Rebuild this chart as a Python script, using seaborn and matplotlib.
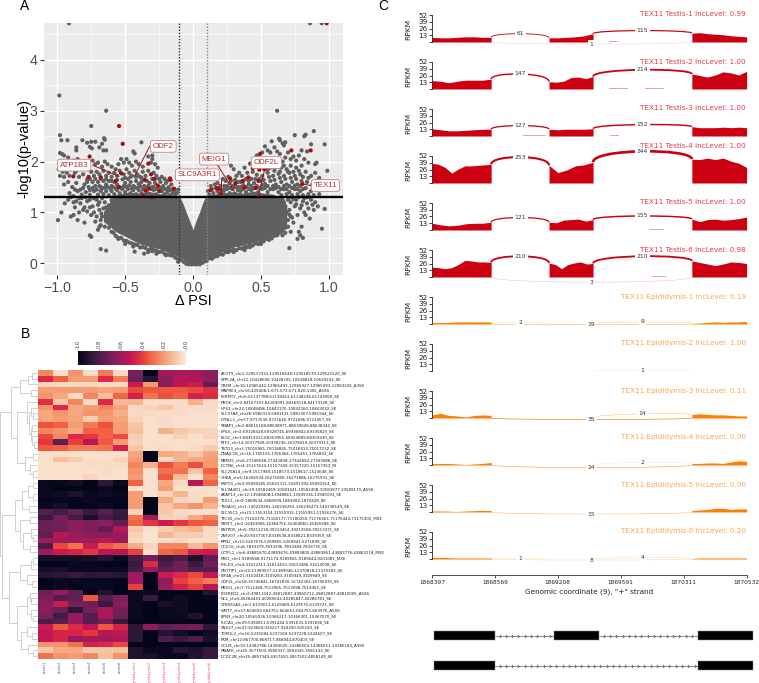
import numpy as np
import pandas as pd
import matplotlib
matplotlib.use("Agg")
import matplotlib.pyplot as plt
from matplotlib.path import Path
from matplotlib.patches import PathPatch, Rectangle
import seaborn as sns

W, H = 759, 683
# ---------- panel A data ----------
blob_x = [-.66,-.61,-.587,-.56,-.47,-.39,-.32,-.243,-.17,-.096,-.07,-.047,-.02,0,.02,.05,.07,.09,.15,.22,.297,.37,.445,.52,.592,.65,.69]
blob_lo = [.82,.72,.66,.61,.49,.38,.33,.28,.20,.12,.08,.02,.01,.01,.01,.01,.06,.09,.15,.23,.32,.36,.41,.47,.54,.60,.74]
blob_hi = [1.02,1.22,1.30,1.36,1.40,1.38,1.41,1.37,1.36,1.30,1.15,.98,.80,.66,.82,1.02,1.18,1.30,1.36,1.38,1.41,1.38,1.42,1.38,1.36,1.28,1.15]

gray_pts = [
(-.914,4.72),(.862,4.72),(.948,4.72),
(-.985,3.30),(-.64,3.00),(-.75,2.70),(-.98,2.52),(-.97,2.42),(-.925,2.42),(-.815,2.42),(-.78,2.37),(-.75,2.39),(-.72,2.39),(-.67,2.35),(-.65,2.43),(-.655,2.46),
(-.69,2.28),(-.86,2.28),(-.86,2.22),(-.76,2.29),(-.745,2.26),(-.66,2.22),(-.64,2.22),(-.38,2.38),(-.44,2.20),(-.43,2.16),(-.30,2.12),(-.30,2.05),(-.98,2.17),(-.965,2.15),(-.95,2.12),
(-.92,2.08),(-.88,2.02),(-.85,2.05),(-.84,1.95),(-.93,1.95),(-.97,1.90),(-.99,1.85),(-.96,1.80),(-.93,1.78),(-.90,1.85),(-.86,1.82),(-.82,1.88),(-.80,1.98),(-.78,1.92),(-.74,2.02),(-.72,1.95),
(-.70,1.98),(-.67,1.90),(-.65,2.00),(-.63,1.95),(-.60,1.90),(-.57,1.85),(-.55,1.95),(-.53,2.05),(-.51,1.98),(-.49,2.05),(-.47,1.98),(-.45,1.92),(-.42,2.00),(-.40,1.95),(-.37,1.90),(-.33,2.10),(-.31,1.98),(-.28,1.95),(-.26,1.88),
(-.98,1.72),(-.95,1.70),(-.91,1.72),(-.87,1.78),(-.84,1.70),(-.81,1.75),(-.78,1.65),(-.75,1.80),(-.73,1.72),(-.71,1.80),(-.69,1.75),(-.66,1.82),(-.64,1.72),(-.62,1.78),(-.60,1.70),(-.58,1.78),(-.56,1.72),(-.54,1.82),(-.51,1.75),(-.49,1.85),(-.47,1.78),(-.45,1.72),(-.43,1.82),(-.41,1.75),(-.39,1.70),(-.37,1.80),(-.35,1.72),(-.33,1.82),(-.29,1.78),(-.27,1.72),(-.23,1.70),(-.21,1.66),(-.19,1.62),
(-.95,1.55),(-.92,1.60),(-.89,1.50),(-.86,1.58),(-.83,1.45),(-.80,1.55),(-.77,1.50),(-.74,1.60),(-.72,1.52),(-.70,1.60),(-.68,1.50),(-.66,1.62),(-.64,1.55),(-.62,1.62),(-.60,1.52),(-.58,1.60),(-.56,1.55),(-.52,1.65),(-.50,1.58),(-.48,1.66),(-.46,1.60),(-.44,1.52),(-.42,1.62),(-.40,1.56),(-.38,1.60),(-.36,1.52),(-.32,1.58),(-.30,1.50),(-.28,1.58),(-.24,1.60),(-.22,1.52),(-.20,1.58),(-.18,1.50),(-.16,1.55),(-.14,1.42),(-.12,1.38),(-.11,1.45),
(-.91,1.38),(-.88,1.32),(-.85,1.42),(-.82,1.35),(-.79,1.40),(-.76,1.35),(-.73,1.42),(-.70,1.35),(-.68,1.42),(-.66,1.36),(-.64,1.42),(-.62,1.34),(-.60,1.42),(-.58,1.36),(-.56,1.44),(-.54,1.38),(-.52,1.46),(-.50,1.40),(-.48,1.46),(-.46,1.38),(-.44,1.44),(-.42,1.36),(-.40,1.44),(-.38,1.38),(-.34,1.40),(-.32,1.36),(-.29,1.44),(-.27,1.36),(-.23,1.42),(-.21,1.36),(-.19,1.40),(-.17,1.34),(-.15,1.38),
(-.995,.85),(-.97,1.00),(-.945,1.18),(-.92,1.25),(-.88,.95),(-.87,1.10),(-.85,.85),(-.83,1.18),(-.81,1.05),(-.80,.80),(-.78,1.22),(-.76,.55),(-.75,.52),(-.75,.95),(-.74,1.12),(-.72,.82),(-.71,1.25),(-.69,1.05),(-.68,.75),(-.67,.92),(-.68,.28),(-.64,.25),(-.65,1.20),(-.64,1.10),(-.63,.85),(-.70,1.15),(-.76,1.25),(-.82,1.28),(-.86,1.22),
(-.43,.23),(-.36,.19),(-.33,.22),(-.30,.24),(-.11,.03),(-.55,.48),(-.50,.38),(-.44,.33),(-.27,.19),(-.20,.16),
(.62,3.00),(.89,2.60),(.75,2.52),(.82,2.50),(.83,2.53),(.64,2.42),(.635,2.45),(.68,2.38),(.67,2.32),(.66,2.36),(.58,2.40),(.53,2.30),(.55,2.22),(.97,2.34),(.87,2.34),(.84,2.20),(.90,1.95),(.91,1.98),(.99,1.82),(.93,1.68),(.97,1.07),(.95,.68),(.85,1.08),(.89,1.05),(.82,1.00),
(.60,2.28),(.57,2.18),(.51,2.18),(.47,2.12),(.62,2.20),(.64,2.15),(.70,2.18),(.74,2.10),(.78,2.12),(.80,2.22),(.82,2.05),(.76,2.02),(.72,2.05),(.68,2.08),(.66,2.00),(.62,2.02),(.58,2.05),(.54,2.02),(.50,1.98),(.46,2.00),(.42,1.96),(.38,1.88),(.30,1.85),(.28,1.92),(.34,1.78),
(.85,1.98),(.80,1.92),(.76,1.88),(.72,1.92),(.69,1.85),(.65,1.88),(.61,1.90),(.57,1.88),(.53,1.92),(.48,1.90),(.44,1.80),(.40,1.78),(.36,1.72),(.32,1.72),(.26,1.70),(.24,1.62),(.22,1.66),(.18,1.58),
(.90,1.78),(.87,1.72),(.83,1.80),(.79,1.75),(.75,1.72),(.71,1.78),(.67,1.72),(.63,1.76),(.59,1.72),(.55,1.78),(.51,1.72),(.47,1.74),(.43,1.66),(.39,1.66),(.35,1.60),(.31,1.64),(.27,1.58),(.23,1.52),(.20,1.52),(.16,1.55),(.13,1.52),(.11,1.42),
(.95,1.60),(.91,1.62),(.88,1.55),(.84,1.60),(.80,1.62),(.77,1.55),(.73,1.60),(.69,1.55),(.65,1.60),(.61,1.55),(.57,1.62),(.53,1.56),(.50,1.62),(.45,1.58),(.41,1.55),(.37,1.54),(.33,1.50),(.29,1.52),(.25,1.46),(.22,1.44),(.18,1.42),(.15,1.38),
(.91,1.45),(.87,1.42),(.83,1.48),(.79,1.42),(.75,1.46),(.71,1.40),(.67,1.46),(.63,1.40),(.59,1.46),(.55,1.40),(.51,1.46),(.48,1.40),(.43,1.44),(.39,1.40),(.35,1.42),(.31,1.36),(.27,1.38),(.23,1.36),(.19,1.35),(.12,1.35),
(.93,1.36),(.89,1.34),(.85,1.36),(.81,1.34),(.77,1.36),(.73,1.34),(.69,1.36),(.65,1.34),
(.90,1.20),(.87,1.25),(.84,1.18),(.81,1.22),(.79,1.08),(.77,.95),(.76,1.25),(.75,1.12),(.74,.80),(.73,.90),(.72,1.20),(.71,1.05),(.70,.72),(.72,.62),(.80,.72),(.79,.55),(.81,.50),(.77,.48),(.71,.30),(.66,.55),(.68,.60),(.78,.62),(.83,.95),(.86,.88),(.92,1.12),
(.05,-.02),(.10,.05),(.38,.26),(.42,.32),(.50,.38),(.56,.46),(.30,.22),(.26,.26),
# left edge of the dense cloud and its lower rim
(-.70,.66),(-.69,.72),(-.68,.85),(-.675,.98),(-.66,1.08),(-.65,.72),(-.64,.94),(-.63,1.02),(-.62,.70),(-.62,1.14),(-.60,.62),(-.60,1.24),(-.585,.60),(-.58,1.30),
(-.57,.54),(-.55,.50),(-.53,.50),(-.51,.45),(-.49,.44),(-.47,.41),(-.45,.39),(-.43,.37),(-.41,.36),(-.39,.31),(-.37,.32),(-.35,.30),(-.33,.26),(-.31,.29),(-.29,.26),(-.27,.25),(-.25,.22),(-.23,.23),(-.21,.19),(-.19,.17),(-.17,.16),(-.15,.15),(-.13,.11),(-.11,.09),(-.09,.07),(-.07,.03),(-.05,-.01),(-.03,-.02),(-.01,-.02),(.01,-.02),(.03,-.02),(.07,.01),(.09,.04),(.12,.10),(.14,.09),(.16,.13),(.18,.14),(.20,.18),(.22,.17),(.24,.22),(.26,.22),(.28,.25),(.30,.27),(.32,.26),(.34,.30),(.36,.29),(.38,.32),(.40,.32),(.42,.36),(.44,.35),(.46,.39),(.48,.38),(.50,.42),(.52,.43),(.54,.48),(.56,.50),(.58,.49),(.60,.54),(.62,.55),(.64,.60),(.66,.64),(.68,.70),(.70,.85),(.71,.96),(.69,1.00),(.68,1.12),(.67,1.20),(.66,1.25),(.72,.92),
# denser band just above the threshold line
(-.61,1.47),(-.59,1.50),(-.57,1.47),(-.55,1.51),(-.53,1.48),(-.51,1.52),(-.49,1.50),(-.47,1.53),(-.45,1.47),(-.43,1.50),(-.41,1.48),(-.39,1.52),(-.37,1.46),(-.35,1.50),(-.33,1.52),(-.31,1.46),(-.29,1.50),(-.27,1.46),(-.25,1.50),(-.23,1.47),(-.21,1.46),(-.19,1.46),(-.17,1.44),(-.15,1.46),(-.13,1.36),
(-.76,1.44),(-.74,1.48),(-.71,1.45),(-.69,1.52),(-.67,1.47),(-.65,1.49),(-.63,1.50),(-.81,1.48),(-.87,1.45),(-.78,1.60),(-.76,1.66),(-.72,1.66),(-.68,1.66),(-.64,1.66),(-.60,1.62),(-.56,1.64),(-.50,1.68),(-.46,1.70),(-.42,1.70),(-.38,1.68),(-.34,1.62),(-.30,1.66),(-.28,1.66),(-.25,1.66),
(-.90,.92),(-.84,1.00),(-.80,1.10),(-.78,1.02),(-.76,1.10),(-.73,1.00),(-.71,.92),(-.69,1.20),(-.67,1.28),(-.73,1.28),(-.79,1.30),(-.84,1.28),(-.88,1.20),(-.90,1.30),
(.14,1.46),(.17,1.48),(.20,1.46),(.23,1.44),(.25,1.52),(.27,1.48),(.29,1.46),(.31,1.50),(.33,1.44),(.35,1.50),(.37,1.46),(.39,1.50),(.41,1.46),(.43,1.52),(.45,1.48),(.47,1.52),(.49,1.48),(.51,1.54),(.53,1.48),(.55,1.52),(.57,1.46),(.59,1.52),(.61,1.48),(.63,1.50),(.65,1.46),(.67,1.52),(.69,1.46),(.71,1.52),(.73,1.48),(.75,1.53),(.77,1.46),(.79,1.52),(.81,1.46),
(.28,1.62),(.33,1.60),(.37,1.62),(.41,1.62),(.46,1.66),(.49,1.66),(.52,1.64),(.56,1.70),(.60,1.64),(.64,1.68),(.68,1.66),(.72,1.68),(.76,1.66),(.81,1.70),(.85,1.68),(.55,1.84),(.60,1.82),(.64,1.80),(.70,1.80),(.74,1.80),(.78,1.82),(.67,1.92),
(.72,1.30),(.74,1.26),(.76,1.16),(.78,1.30),(.80,1.14),(.82,1.28),(.84,1.30),(.86,1.30),(.88,1.15),(.70,1.25),
]
red_pts = [(-.545,2.70),(-.518,2.35),(-.762,2.10),(-.882,1.71),(-.77,1.70),(-.68,1.69),(-.53,1.77),(-.57,1.62),(-.545,1.50),(-.33,1.96),(-.31,1.75),(-.356,1.64),(-.287,1.66),(-.26,1.53),(-.248,1.42),(-.324,1.47),(-.35,1.43),(-.17,1.67),(-.165,1.64),(-.14,1.47),(-.366,1.33),(-.305,1.30),
(.13,1.44),(.175,1.48),(.19,1.46),(.206,1.38),(.273,1.67),(.312,1.57),(.366,1.62),(.378,1.49),(.408,1.69),(.44,1.87),(.494,2.15),(.489,1.84),(.526,1.85),(.482,1.62),(.462,1.48),(.725,2.22),(.867,2.22),(.806,1.56),(.985,4.72)]
gene_names = ["ODF2","ATP1B3","SLC9A3R1","MEIG1","ODF2L","TEX11"]
gene_label_x = [-.219,-.876,.032,.155,.54,.976]
gene_label_y = [2.30,1.93,1.74,2.05,1.98,1.53]
gene_tail_x0 = [-.32,-.74,.206,.175,.53,.87]
gene_tail_y0 = [2.30,1.93,1.64,1.96,1.87,1.53]
gene_tail_x = [-.43,-.545,.206,.312,.482,.806]
gene_tail_y = [1.72,1.71,1.38,1.38,1.31,1.56]

# ---------- panel B data ----------
row_labels = [
"ACOT9_chr1:129517331,129518548:129518570,129521520_SE","SPPL2A_chr11:10428608,10428745-10638818,10629243_SE","CREM_chr16:12965442,12965493-12965927,12965493-12963226_A3SS",
"MAPRE3_chr16:425408,1:671:672:671-820,1305_A5SS","FERMT2_chr5:61137788,61138263-61138236,61143958_SE","MYO6_chr2:84167103,84169091-84169118,84173128_SE",
"HPS3_chr22:10848486,10842170-10842260,10843032_SE","SLC37A4_chr26:5980319,5981121-5981307,5981944_SE","DYNLL1_chr17:9717530,9721640-9721696,9722457_SE",
"SMAP1_chr2:88615168,88638971-88639049,88638344_SE","PPIL6_chr2:69328428,69328745-69330842,69330829_SE","ELOC_chr3:68353222,68353955-68354889,68359330_SE",
"RTF2_chr14:20377928,20378236-20378419,20379313_SE","TSTD3_chr2:75015981,75016845-75016913,75017232_SE","DNAJC18_chr15:1765105,1765364-1765451,1766802_SE",
"RBM25_chr5:27248548,27342808-27342892,27343586_SE","DCTN6_chr4:15157634-15157349:15157220-15157353_RI","SLC25A14_chr9:1517989,1518573-1518617,1523648_SE",
"CHKA_chr5:16266534,16271806-16271886,16275931_SE","RSPO1_chr3:55690305,55691311-55691392,55692914_SE","SLC9A3R1_chr19:10582469-10583441:10582408-10583877,10589170_A5SS",
"AKAP13_chr12:13948408,13948861-13949036,13949193_SE","TEX11_chr9:1868534,1868599,1869282,1870428_SE","TSGA10_chr1:140229281,140236263-140236473,140238149_SE",
"SLC35C2_chr22:11553154,11555915-11555951,11556276_SE","TTC30_chr1:71160376,71160177-71180250:71176363-71176444,71175302_MXE","SRSF7_chr2:16363966,16364755-16364860,16365586_SE",
"ENTPD5_chr5:39212218,39213454-39213508,39213471_SE","ZNF207_chr20:8337357,8338538-8338821,8339359_SE","RPN2_chr12:5267676,5269855-5269941,5271899_SE",
"CCDC6_chr6:7833379,7833296-7833384,7833735_SE","LZTFL1_chr6:43881870,43883676-43883805,43883861-43883776,43883218_MXE","MSI1_chr1:9189588,9171174-9189581-9189644,9201081_MXE",
"PHLD3_chr4:31612311,31613410-31613486,31614008_SE","DNTTIP1_chr22:11389557,11389946-11370818,11370383_SE","EIF4A_chr21:3102418,3109283-3109349,3109949_SE",
"ODF2L_chr18:16740841,16741830-16742302,16745935_SE","MEIG1_chr7:7511468,7512965-7513098,7514455_SE","FOXRED2_chr2:49811042-49812887-49850712-49812887,49810005_A5SS",
"NCL_chr4:40284443,40285643-40285847,40286781_SE","CYB561A3_chr1:6129013,6129489-6129575,6129721_SE","WNT7_chr27:664609-664751:664651-664751,663976_A5SS",
"EPN3_chr20:10565926,10366217-10366301,10367070_SE","FUCA1_chr29:5390811,5391444-5391631,5391836_SE","SNX27_chr27:923669,924227-924290,925183_SE",
"TOM1L2_chr16:5235084,5237160-5237228,5244607_SE","PKM_chr12:867700,868717-868944,870403_SE","GCLM_chr10:14382786,14384025-14386563:14386551-14386183_A3SS",
"MBAFK_chr25:3577500,3580337-3581045,3581443_SE","DCDC2B_chr25:4857340,4357450-4857502,4858149_SE"]
col_labels = ["testis1","testis2","testis3","testis4","testis5","testis6","epididymis1","epididymis2","epididymis3","epididymis4","epididymis5","epididymis6"]
psi = [
[.25,.03,.22,.04,.28,.05,.70,1.0,.60,.58,.58,.65],[.45,.33,.20,.20,.45,.27,.72,.90,.65,.55,.58,.65],[.06,.05,.05,.05,.05,.05,.50,.20,.65,.53,.50,.75],
[.20,.20,.20,.20,.18,.20,.38,.35,.35,.35,.38,.43],[.22,.17,.05,.25,.12,.32,.48,.30,.37,.33,.48,.45],[.43,.10,.25,.05,.45,.13,.14,.04,.04,.04,.15,.04],
[.22,.45,.17,.20,.25,.18,.05,.07,.10,.04,.04,.04],[.17,.22,.17,.22,.22,.15,.05,.05,.04,.04,.03,.03],[.17,.20,.18,.08,.20,.18,.06,.03,.04,.03,.03,.03],
[.36,.33,.20,.28,.36,.20,.10,.03,.04,.03,.03,.03],[.25,.22,.17,.33,.33,.20,.11,.03,.15,.10,.07,.06],[.38,.25,.45,.42,.33,.38,.08,.03,.03,.07,.03,.07],
[.42,.75,.40,.55,.35,.20,.07,.03,.03,.03,.03,.03],[.35,.33,.28,.28,.30,.47,.10,.03,.04,.03,.04,.08],[.03,.03,.03,.03,.03,.03,.18,1.0,.17,.15,.10,.18],
[.03,.12,.08,.03,.03,.07,.20,1.0,.05,.14,.17,.20],[.03,.03,.03,.04,.04,.04,.25,.15,.37,.28,.37,.20],[.03,.03,.03,.03,.04,.03,.22,.03,.30,.30,.10,.33],
[.03,.03,.03,.06,.03,.03,.20,.03,.35,.12,.03,.25],[.98,.98,.95,1.0,.88,.97,.33,.03,.17,.05,.55,.33],[.98,1.0,1.0,1.0,.97,1.0,.03,.03,.20,.03,.03,.03],
[.97,.96,.92,.97,.96,.97,.20,.03,.06,.14,.04,.03],[.99,.98,.99,.97,.99,.99,.20,1.0,.17,.06,.04,.20],[.97,.94,1.0,.99,.97,1.0,.20,1.0,.10,.17,.22,.14],
[.78,.82,.75,.85,.77,.85,.07,1.0,.09,.05,.03,.03],[.85,.70,.82,.93,.82,.86,.30,.60,.07,.06,.17,.25],[.73,.70,.65,.68,.65,.75,.33,.42,.50,.42,.35,.33],
[.72,.72,.65,.68,.75,.55,.09,.03,.08,.12,.15,.04],[.75,.55,.62,.65,.65,.62,.07,.02,.14,.08,.08,.04],[.60,.60,.60,.60,.55,.62,.05,.02,.03,.05,.03,.03],
[.80,.38,.30,.50,.35,.30,.16,.06,.25,.25,.13,.22],[.60,.50,.47,.42,.55,.55,.40,.03,.32,.35,.48,.50],[.95,.95,.95,.94,.90,.97,.82,.70,.85,.80,.93,.75],
[1.0,1.0,.97,.98,1.0,1.0,.85,.45,.80,.72,.85,.72],[.95,.93,.97,.97,.97,.97,.82,.62,.75,.72,.78,.78],[.90,.88,.85,.88,.87,.90,.60,1.0,.50,.45,.38,.52],
[1.0,.97,.98,.98,.98,1.0,.60,1.0,.65,.40,.33,.27],[1.0,.97,1.0,.98,.98,1.0,.40,1.0,.62,.48,.40,.55],[.72,.62,.75,1.0,.92,1.0,.97,.97,1.0,1.0,1.0,.90],
[.68,.78,.75,.35,.78,.68,.98,.85,1.0,.96,1.0,.98],[.65,.50,.70,.72,.85,.65,.97,1.0,.93,.96,1.0,1.0],[.65,.72,.88,.70,.58,.70,.97,1.0,.97,.96,1.0,1.0],
[.68,.83,.62,.78,.58,.72,.97,1.0,.97,.97,.92,1.0],[.80,.77,.62,.77,.72,.85,1.0,1.0,1.0,1.0,1.0,1.0],[.50,.35,.45,.53,.35,.47,.88,.65,.75,.72,.70,.88],
[.53,.47,.47,.42,.55,.53,.88,1.0,.90,.95,1.0,.95],[.52,.47,.62,.58,.60,.58,.88,1.0,.80,.85,.80,.93],[.22,.22,.30,.47,.45,.38,1.0,1.0,1.0,1.0,1.0,1.0],
[.10,.17,.17,.10,.10,.12,.92,.97,.97,.90,.92,.85],[.30,.22,.20,.25,.12,.22,.92,.93,.97,.97,.90,.85]]
# dendrogram: (merge position, child, child), leaves are 1-based row numbers
tree = (0,
 (11,(20,(28,(32,1,2),3),(31,4,5)),
     (17,(27,6,(29,(31,7,(33,8,9)),(31,(32,10,11),(32,12,(34,13,14))))),
         (25,(33,15,16),(30,17,(33,18,19))))),
 (1.5,(15,(22,(28,(33,20,21),(33,22,23)),(29,24,25)),
          (20,(30,26,27),(23,(31,28,(33,29,30)),(30,31,32)))),
      (9,(20,(31,(33,33,34),35),(27,36,(32,37,38))),
         (17,(27,(30,39,(31,40,41)),(31,42,(33,43,44))),
             (21,(27,45,(32,46,47)),(28,48,(33,49,50)))))))

# ---------- panel C data ----------
samples = ["Testis-1","Testis-2","Testis-3","Testis-4","Testis-5","Testis-6","Epididymis-1","Epididymis-2","Epididymis-3","Epididymis-4","Epididymis-5","Epididymis-6"]
inc_levels = ["0.99","1.00","1.00","1.00","1.00","0.98","0.19","1.00","0.11","0.00","0.00","0.20"]
exon_edges = [(0,.94),(1.86,2.56),(4.13,5.0)]
cov_e1 = [[9,8,8,9,10,10,9,9],[16,15,12,15,17,17,17,19],[14,12,10,10,11,12,13,13],[38,36,30,19,27,33,33,34,35,36],[13,10,8,9,12,13,13,15],[19,18,16,18,24,32,31,29,29,28],
 [3,3,3,4,4,4,4,4],[.2,.2,.2,.2],[6,9,5,4,2,5,6,5],[3,3,3,2,1,2,3,5],[2,2,1,2,3,3],[3,3,2,2,2,2]]
cov_e2 = [[8,8,9,10,12,16],[14,13,15,22,23,20,24],[13,12,13,13,13,14],[34,20,25,33,35,40],[15,14,19,20,21,17,20],[27,24,16,24,27,29,25,26],
 [.5,.5,.5,.5],[0,0,0,0],[0,0,0,0],[0,0,0,0],[0,0,0,0],[0,0,0,0]]
cov_e3 = [[17,18,16,15,14,12,11,10],[29,26,23,27,33,31,27,34],[18,16,16,16,17,16,17,16],[46,45,48,45,48,42,38,30],[21,16,20,21,19,20,22,25],[31,28,25,22,25,29,28,26],
 [1,2,3,4,3,4,4,5],[.3,.3,.3,.3],[7,8,7,6,6,5,4,4],[3,3,4,4,3,6,8,7],[3,4,5,7,7,5,6,6],[1,2,2,2,2,2,2,2]]
count_a = [61,147,127,253,121,210,2,None,None,None,None,1]
count_b = [115,214,152,344,155,210,9,1,14,2,None,4]
count_s = [1,None,None,None,None,3,19,None,35,24,15,8]
peak_a = [16,29,20,50,24,40,3,None,None,None,None,1.5]
peak_b = [22,37,22,61,27,40,4,1,8,5,None,3]
peak_s = [-4,None,None,None,None,-10,-1.5,None,-3,-5,-4,-2]
stray_panel = [0,1,1,2,2,4,5]
stray_x0 = [2.81,2.82,3.39,1.45,2.83,3.45,3.50]
stray_x1 = [2.94,3.10,3.67,1.80,2.95,3.67,3.70]
tick_names = ["1868397","1868569","1869208","1869591","1870311","1870532"]
model_exons = [[(.03,1.0),(1.935,2.655),(4.23,5.10)],[(.03,1.0),(4.23,5.10)]]

# ---------- helpers ----------
sns.set_theme(style="white")
plt.rcParams["font.family"] = ["DejaVu Sans"]
fig = plt.figure(figsize=(W/100, H/100), dpi=100, facecolor="white")
def axpx(x0, y0, x1, y1):
    return fig.add_axes([x0/W, 1-y1/H, (x1-x0)/W, (y1-y0)/H])
def tpx(x, y, s, **k):
    return fig.text(x/W, 1-y/H, s, **k)

for s, x, y in [("A",25,6),("B",25,334),("C",383,6)]:
    tpx(x, y, s, fontsize=10, ha="center", va="center", family="Liberation Sans", color="black")

# ---------- panel A ----------
a = axpx(44, 23.3, 342.7, 274.7)
a.set_facecolor("#EBEBEB")
a.set_xlim(-1.098, 1.103); a.set_ylim(-.224, 4.72)
a.set_xticks([-1,-.5,0,.5,1]); a.set_yticks([0,1,2,3,4])
a.set_xticks([-.75,-.25,.25,.75], minor=True); a.set_yticks([.5,1.5,2.5,3.5,4.5], minor=True)
a.grid(True, which="major", color="white", lw=1); a.grid(True, which="minor", color="white", lw=.45)
a.set_axisbelow(True)
for sp in a.spines.values(): sp.set_visible(False)
a.fill_between(blob_x, blob_lo, blob_hi, color="#606060", lw=0, zorder=2)
g = pd.DataFrame(gray_pts, columns=["dpsi","logp"])
r = pd.DataFrame(red_pts, columns=["dpsi","logp"])
sns.scatterplot(data=g, x="dpsi", y="logp", ax=a, color="#606060", s=9, edgecolor="none", zorder=3, legend=False)
sns.scatterplot(data=r, x="dpsi", y="logp", ax=a, color="#a80d0d", s=9, edgecolor="none", zorder=4, legend=False)
a.axhline(1.3, color="black", lw=1.7, zorder=5)
a.axvline(-.1, color="#333333", lw=1, ls=(0,(1,1.2)), zorder=5)
a.axvline(.1, color="#888888", lw=1, ls=(0,(1,1.2)), zorder=5)
for n, lx, ly, x0, y0, x1, y1 in zip(gene_names, gene_label_x, gene_label_y, gene_tail_x0, gene_tail_y0, gene_tail_x, gene_tail_y):
    a.plot([x0,x1],[y0,y1], color="#a80d0d", lw=.7, zorder=6)
    a.text(lx, ly, n, fontsize=5.7, color="#a83030", ha="center", va="center", family="Liberation Sans", zorder=7,
           bbox=dict(boxstyle="round,pad=0.3", fc="white", ec="#c98080", lw=.6))
a.set_xlabel("Δ PSI", fontsize=10.5, family="Liberation Sans", color="black", labelpad=-1)
a.set_ylabel("-log10(p-value)", fontsize=10.5, family="Liberation Sans", color="black", labelpad=-1)
a.tick_params(axis="both", which="major", labelsize=10.2, labelcolor="#4d4d4d", color="#333333", length=3, width=.8, bottom=True, left=True, pad=1.5)
a.tick_params(axis="both", which="minor", length=0)
for t in a.get_xticklabels()+a.get_yticklabels(): t.set_family("Liberation Sans")

# ---------- panel B ----------
hm = axpx(37.7, 370, 217.7, 659)
cax = axpx(78, 350.7, 186, 365)
df = pd.DataFrame(psi, index=row_labels, columns=col_labels)
sns.heatmap(df, ax=hm, cmap="rocket_r", vmin=0, vmax=1, cbar_ax=cax, cbar_kws={"orientation":"horizontal"},
            xticklabels=True, yticklabels=True)
hm.yaxis.tick_right()
hm.tick_params(axis="y", labelsize=2.9, length=1.2, width=.25, pad=.8, color="#555555", labelcolor="#222222", right=True, left=False)
hm.tick_params(axis="x", labelsize=2.6, length=0, pad=1.2, bottom=False)
for t in hm.get_yticklabels(): t.set_rotation(0)
for t in hm.get_xticklabels():
    t.set_rotation(90)
    t.set_color("#4a55a8" if t.get_text().startswith("testis") else "#e8507a")
hm.set_xlabel(""); hm.set_ylabel("")
cax.invert_xaxis()
cax.set_xticks([1,.8,.6,.4,.2,0]); cax.set_xticklabels(["1.0","0.8","0.6","0.4","0.2","0.0"], rotation=90, fontsize=3.6, color="#333333")
cax.xaxis.tick_top(); cax.tick_params(axis="x", length=1.5, width=.3, pad=.8, top=True, bottom=False, color="#444444")
for sp in cax.spines.values(): sp.set_visible(False)

d = axpx(0, 370, 37.7, 659)
d.set_xlim(0, 37.7); d.set_ylim(50, 0); d.axis("off")
def walk(node):
    if not isinstance(node, tuple):
        return 37.7, node-.5
    xn, c1, c2 = node
    x1, y1 = walk(c1); x2, y2 = walk(c2)
    d.plot([x1,xn,xn,x2],[y1,y1,y2,y2], color="#c4c4c4", lw=.55, solid_joinstyle="miter")
    return xn, (y1+y2)/2
rx, ry = walk(tree)

# ---------- panel C ----------
px0, px1 = 432, 746.6
baselines = [42,89,136,183,230,277,324,371,418,465,512,559]
title_lift = [0,0,0,9,0,0,0,0,0,0,0,0]
def arc(ax, x0, x1, y0, y3, peak, count, col):
    c = (8*peak - y0 - y3)/6
    pth = Path([(x0,y0),(x0,c),(x1,c),(x1,y3)], [Path.MOVETO,Path.CURVE4,Path.CURVE4,Path.CURVE4])
    ax.add_patch(PathPatch(pth, fc="none", ec=col, lw=.35+min(count,350)/220, alpha=min(1,.18+count/45), clip_on=False, zorder=3))
    ax.text((x0+x1)/2, peak, str(count), fontsize=4.3, color="#333333", ha="center", va="center", clip_on=False, zorder=4,
            bbox=dict(fc="white", ec="none", pad=1.2))
for i, name in enumerate(samples):
    col = "#cc0011" if i < 6 else "#ff8000"
    tcol = "#e8394a" if i < 6 else "#ffa64d"
    ax = axpx(px0, baselines[i]-27, px1, baselines[i])
    ax.set_xlim(0,5); ax.set_ylim(0,52); ax.patch.set_alpha(0)
    for (e0,e1), vals in zip(exon_edges,(cov_e1[i],cov_e2[i],cov_e3[i])):
        xs = np.linspace(e0,e1,len(vals))
        ax.fill_between(xs, 0, vals, color=col, lw=0, clip_on=False, zorder=2)
    for p,s0,s1 in zip(stray_panel,stray_x0,stray_x1):
        if p == i:
            ax.plot([s0,s1],[1,1], color=col, lw=.6, alpha=.45, clip_on=False)
    if count_a[i] is not None:
        arc(ax, .94, 1.86, cov_e1[i][-1], cov_e2[i][0], peak_a[i], count_a[i], col)
    if count_b[i] is not None:
        arc(ax, 2.56, 4.13, cov_e2[i][-1], cov_e3[i][0], peak_b[i], count_b[i], col)
    if count_s[i] is not None:
        arc(ax, .94, 4.13, 0, 0, peak_s[i], count_s[i], col)
    ax.set_xticks([]); ax.set_yticks([0,13,26,39,52]); ax.set_yticklabels(["","13","26","39","52"], fontsize=5.2, color="#222222")
    ax.tick_params(axis="y", length=2, width=.6, pad=1, left=True, color="#222222")
    for sn in ["top","right","bottom"]: ax.spines[sn].set_visible(False)
    ax.spines["left"].set_linewidth(.6); ax.spines["left"].set_color("#222222")
    ax.set_ylabel("RPKM", fontsize=5.4, labelpad=1.5, color="#222222")
    ax.yaxis.set_label_coords(-.066, .46)
    tpx(746, baselines[i]-27.5-title_lift[i], f"TEX11 {name} IncLevel: {inc_levels[i]}", fontsize=5.2, color=tcol, ha="right", va="center")

xa = axpx(px0, 560, px1, 575)
xa.set_xlim(0,5); xa.set_ylim(0,1); xa.patch.set_alpha(0)
for sn in ["top","right","left"]: xa.spines[sn].set_visible(False)
xa.spines["bottom"].set_linewidth(.6); xa.spines["bottom"].set_color("#333333")
xa.set_yticks([]); xa.set_xticks(range(6)); xa.set_xticklabels(tick_names, fontsize=4.2, color="#222222")
xa.tick_params(axis="x", length=2.2, width=.6, pad=1.5, bottom=True, color="#333333")
xa.set_xlabel('Genomic coordinate (9), "+" strand', fontsize=5.2, labelpad=2.2, color="#222222")

m = axpx(432, 625, 759, 675)
m.set_xlim(0, 327/62.92); m.set_ylim(50,0); m.axis("off")
chev = Path([(-1,1),(0,0),(-1,-1)],[Path.MOVETO,Path.LINETO,Path.LINETO])
for row, yc in zip(model_exons,[10.7,40.7]):
    for (e0,e1),(n0,n1) in zip(row[:-1],row[1:]):
        m.plot([e1,n0],[yc,yc], color="#777777", lw=.6, zorder=1)
        m.plot(np.arange(e1+.09,n0,.1),[yc]*len(np.arange(e1+.09,n0,.1)), ls="none", marker=chev, ms=2.4, mfc="none", mec="#444444", mew=.45, zorder=1)
    for e0,e1 in row:
        m.add_patch(Rectangle((e0,yc-4.3),e1-e0,8.6,fc="black",ec="#888888",lw=.35,zorder=2))

fig.savefig("out.png", dpi=100, facecolor="white")
